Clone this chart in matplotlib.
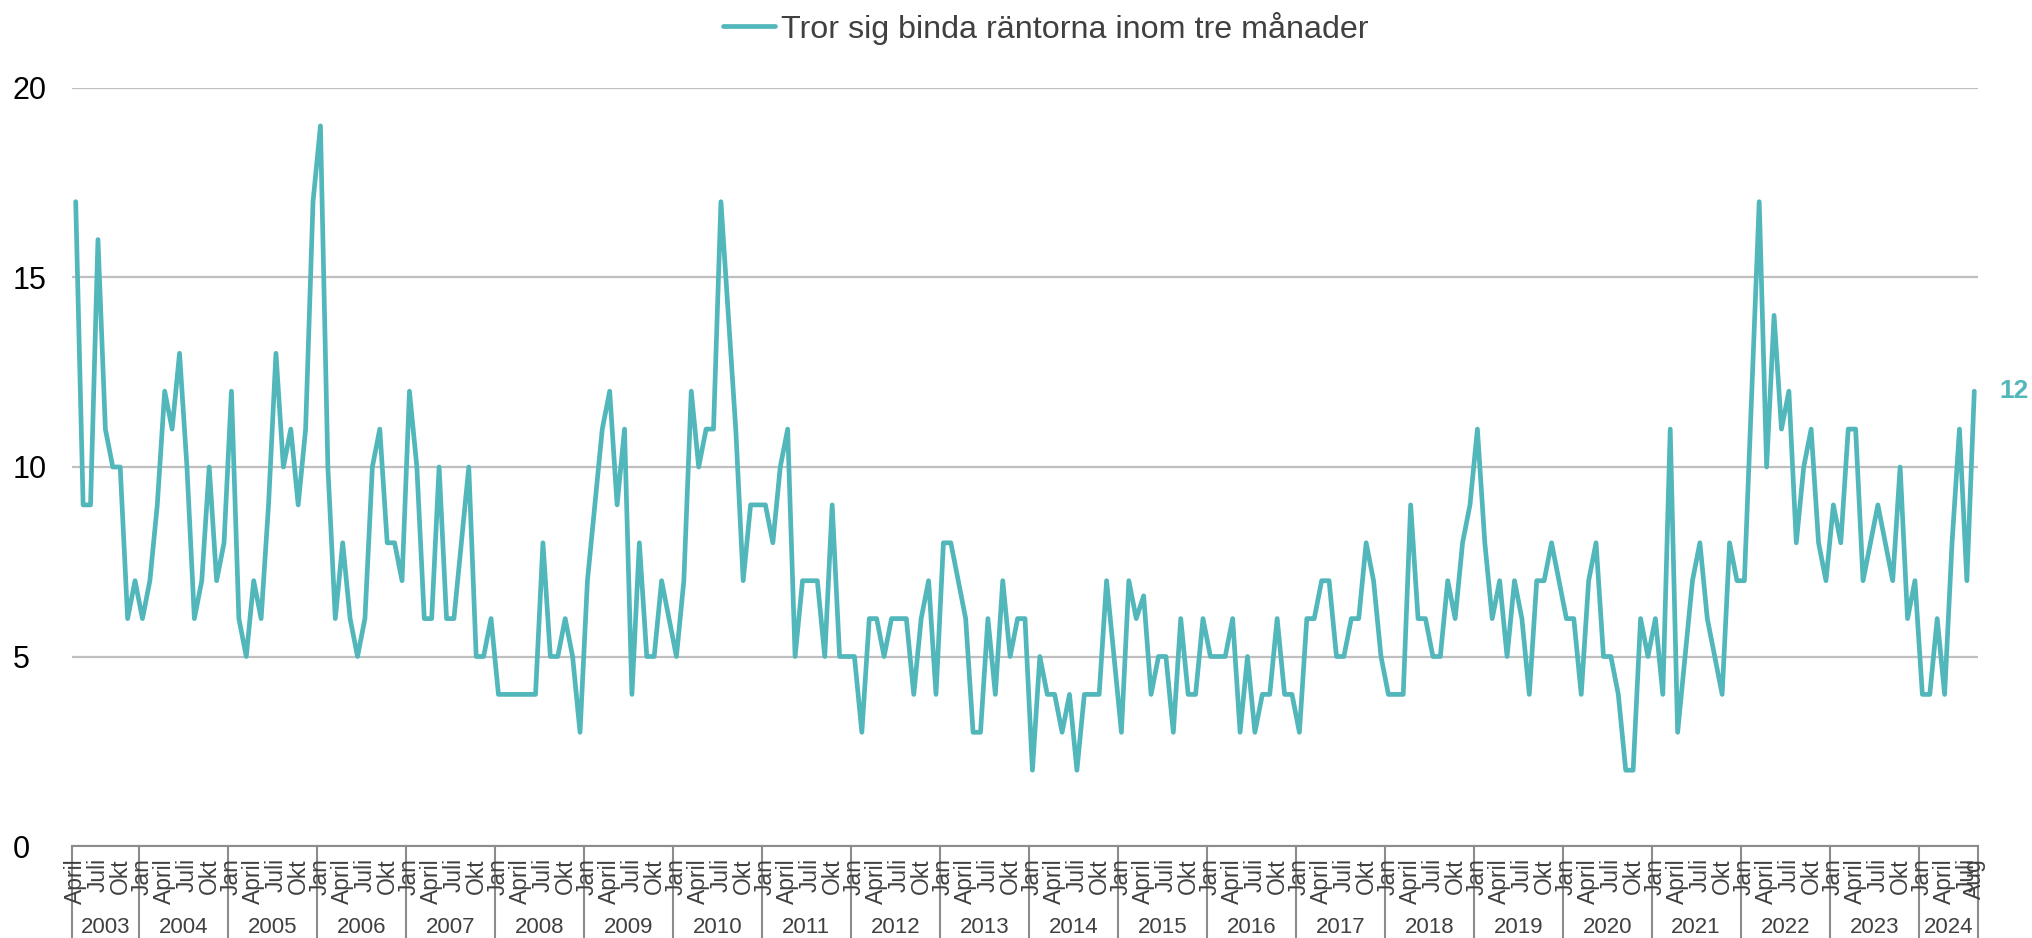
import matplotlib.pyplot as plt
from matplotlib.transforms import blended_transform_factory

plt.rcParams['font.family'] = ['Liberation Sans', 'DejaVu Sans']

# monthly values, April 2003 - August 2024
v2003 = [17, 9, 9, 16, 11, 10, 10, 6, 7]  # Apr-Dec
v2004 = [6, 7, 9, 12, 11, 13, 10, 6, 7, 10, 7, 8]
v2005 = [12, 6, 5, 7, 6, 9, 13, 10, 11, 9, 11, 17]
v2006 = [19, 10, 6, 8, 6, 5, 6, 10, 11, 8, 8, 7]
v2007 = [12, 10, 6, 6, 10, 6, 6, 8, 10, 5, 5, 6]
v2008 = [4, 4, 4, 4, 4, 4, 8, 5, 5, 6, 5, 3]
v2009 = [7, 9, 11, 12, 9, 11, 4, 8, 5, 5, 7, 6]
v2010 = [5, 7, 12, 10, 11, 11, 17, 14, 11, 7, 9, 9]
v2011 = [9, 8, 10, 11, 5, 7, 7, 7, 5, 9, 5, 5]
v2012 = [5, 3, 6, 6, 5, 6, 6, 6, 4, 6, 7, 4]
v2013 = [8, 8, 7, 6, 3, 3, 6, 4, 7, 5, 6, 6]
v2014 = [2, 5, 4, 4, 3, 4, 2, 4, 4, 4, 7, 5]
v2015 = [3, 7, 6, 6.6, 4, 5, 5, 3, 6, 4, 4, 6]
v2016 = [5, 5, 5, 6, 3, 5, 3, 4, 4, 6, 4, 4]
v2017 = [3, 6, 6, 7, 7, 5, 5, 6, 6, 8, 7, 5]
v2018 = [4, 4, 4, 9, 6, 6, 5, 5, 7, 6, 8, 9]
v2019 = [11, 8, 6, 7, 5, 7, 6, 4, 7, 7, 8, 7]
v2020 = [6, 6, 4, 7, 8, 5, 5, 4, 2, 2, 6, 5]
v2021 = [6, 4, 11, 3, 5, 7, 8, 6, 5, 4, 8, 7]
v2022 = [7, 12, 17, 10, 14, 11, 12, 8, 10, 11, 8, 7]
v2023 = [9, 8, 11, 11, 7, 8, 9, 8, 7, 10, 6, 7]
v2024 = [4, 4, 6, 4, 8, 11, 7, 12]  # Jan-Aug

years = list(range(2003, 2025))
by_year = [v2003, v2004, v2005, v2006, v2007, v2008, v2009, v2010, v2011,
           v2012, v2013, v2014, v2015, v2016, v2017, v2018, v2019, v2020,
           v2021, v2022, v2023, v2024]
month_names = {1: "Jan", 4: "April", 7: "Juli", 10: "Okt", 8: "Aug"}
series_label = "Tror sig binda räntorna inom tre månader"

color = "#52B7BA"
W, H = 2033, 938

# build month sequence
values = []
months = []
year_spans = []
for yr, vals in zip(years, by_year):
    start_m = 4 if yr == 2003 else 1
    i0 = len(values)
    for k, v in enumerate(vals):
        values.append(v)
        months.append(start_m + k)
    year_spans.append((yr, i0, len(values) - 1))
x = list(range(len(values)))

fig = plt.figure(figsize=(W / 100, H / 100), dpi=100)
ax = fig.add_axes([72 / W, 92 / H, (1978 - 72) / W, 758 / H])

ax.plot(x, values, color=color, lw=3.4, solid_joinstyle='round',
        solid_capstyle='round', label=series_label, zorder=3)

ax.set_xlim(-0.5, len(values) - 0.5)
ax.set_ylim(0, 20)
ax.set_yticks([0, 5, 10, 15, 20])
ax.yaxis.grid(True, color="#BFBFBF", lw=1.6)
ax.set_axisbelow(True)
ax.tick_params(axis='y', length=0, labelsize=22, pad=42.5, labelcolor='black')
for lab in ax.get_yticklabels():
    lab.set_horizontalalignment('left')
ax.set_xticks([])
for s in ['top', 'right', 'left']:
    ax.spines[s].set_visible(False)
ax.spines['bottom'].set_color("#8C8C8C")
ax.spines['bottom'].set_linewidth(1.5)

tr = blended_transform_factory(ax.transData, ax.transAxes)
# year separators
bounds = [-0.5] + [e + 0.5 for _, _, e in year_spans]
for b in bounds:
    ax.plot([b, b], [0, -92 / 758], transform=tr, color="#8C8C8C", lw=1.5,
            clip_on=False)

# month labels
last = len(values) - 1
for i, m in enumerate(months):
    if m in (1, 4, 7, 10) or i == last:
        ax.text(i, -12 / 758, month_names[m], transform=tr, rotation=90,
                ha='center', va='top', fontsize=16.5, color="#404040")

# year labels
for yr, i0, i1 in year_spans:
    ax.text((i0 + i1) / 2, -81 / 758, str(yr), transform=tr, ha='center',
            va='center', fontsize=16, color="#404040")

# last value label
ax.annotate(f"{values[-1]:g}", (x[-1], values[-1]), xytext=(18, 0),
            textcoords='offset points', ha='left', va='center',
            fontsize=19, fontweight='bold', color=color, annotation_clip=False)

leg = ax.legend(loc='center', bbox_to_anchor=(0.511, 1.079), frameon=False,
                fontsize=23.2, handlelength=1.6, handletextpad=0.2)
for t in leg.get_texts():
    t.set_color("#404040")

fig.savefig("out.png", dpi=100)
